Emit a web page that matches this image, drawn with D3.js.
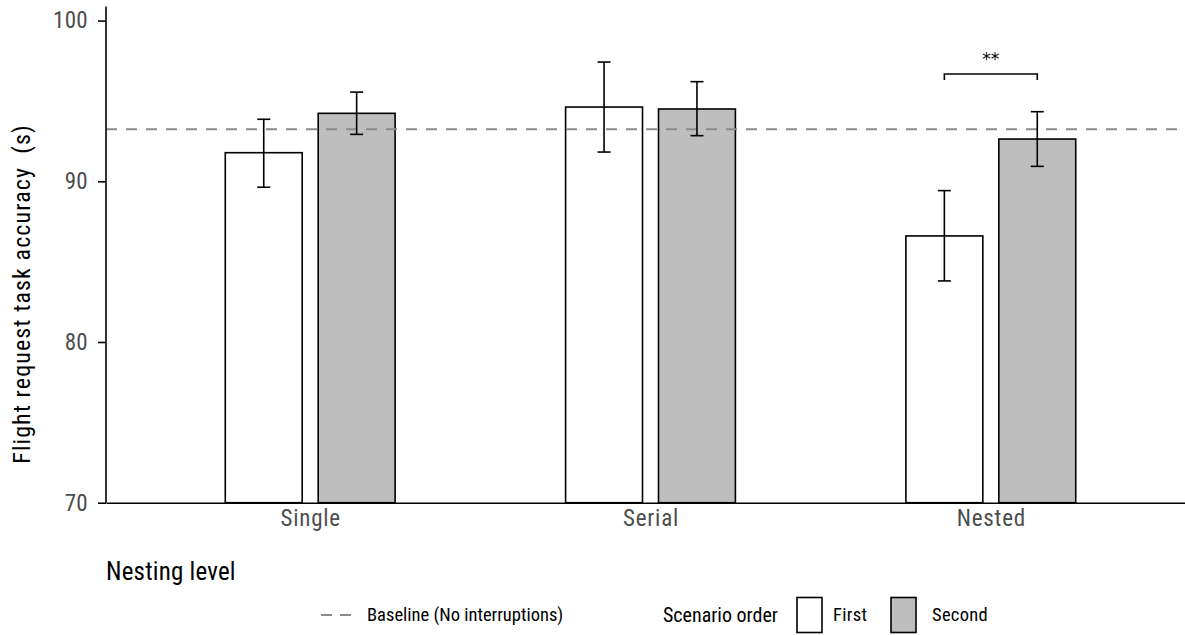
<!DOCTYPE html>
<html lang="en">
<head>
    <meta charset="UTF-8">
    <title>Flight request task accuracy</title>
    <style>
        body{
            margin : 0;
            background-color: white;
        }
        svg{
            display : block;
        }
        text{
            font-family : "Roboto Condensed", "Liberation Sans Narrow", "DejaVu Sans Condensed", sans-serif;
            font-weight : 400;
            white-space : pre;
        }
    </style>
</head>
<body>
    <script src="https://cdn.jsdelivr.net/npm/d3@7"></script>
    <script>
        // donnees
        const categories = ["Single", "Serial", "Nested"];
        const ordres = ["First", "Second"];
        const moyenneFirst = [91.78, 94.62, 86.60];
        const basFirst = [89.63, 91.82, 83.80];
        const hautFirst = [93.86, 97.42, 89.42];
        const moyenneSecond = [94.23, 94.50, 92.63];
        const basSecond = [92.92, 92.84, 90.93];
        const hautSecond = [95.55, 96.20, 94.33];
        const baseline = 93.24;
        const yTicks = [70, 80, 90, 100];
        // comparaison significative (Nested, First vs Second)
        const signif = {categorie : "Nested", niveau : 96.68, pointe : 96.31, label : "**"};

        const largeur = 1185, hauteur = 635;

        let donnees = [];
        categories.forEach((c, i) => {
            donnees.push({cat : c, ordre : "First", moy : moyenneFirst[i], bas : basFirst[i], haut : hautFirst[i]});
            donnees.push({cat : c, ordre : "Second", moy : moyenneSecond[i], bas : basSecond[i], haut : hautSecond[i]});
        });

        let canevas = d3.select('body')
            .append('svg')
                .attr('width', largeur)
                .attr('height', hauteur);

        // echelles
        let x = d3.scalePoint()
            .domain(categories)
            .range([106, 1195])
            .padding(0.6);
        let pas = x.step();
        let decalage = d3.scaleOrdinal().domain(ordres).range([-0.1365 * pas, 0.1365 * pas]);
        let largeurBarre = 0.226 * pas;

        let y = d3.scaleLinear()
            .domain([70, 100])
            .range([502.7, 20.6]);

        let couleur = d3.scaleOrdinal().domain(ordres).range(["white", "#bebebe"]);

        // barres
        canevas.append('g').selectAll('rect')
            .data(donnees)
            .enter()
            .append('rect')
                .attr('x', d => x(d.cat) + decalage(d.ordre) - largeurBarre / 2)
                .attr('y', d => y(d.moy))
                .attr('width', largeurBarre)
                .attr('height', d => y(70) - y(d.moy))
                .attr('fill', d => couleur(d.ordre))
                .attr('stroke', 'black')
                .attr('stroke-width', 1.6);

        // ligne de reference
        canevas.append('line')
            .attr('x1', 106)
            .attr('x2', largeur)
            .attr('y1', y(baseline))
            .attr('y2', y(baseline))
            .attr('stroke', '#8a8a8a')
            .attr('stroke-width', 1.8)
            .attr('stroke-dasharray', '11,9');

        // barres d'erreur
        let erreurs = canevas.append('g');
        erreurs.selectAll('line.vert')
            .data(donnees)
            .enter()
            .append('line')
                .attr('class', 'vert')
                .attr('x1', d => x(d.cat) + decalage(d.ordre))
                .attr('x2', d => x(d.cat) + decalage(d.ordre))
                .attr('y1', d => y(d.bas))
                .attr('y2', d => y(d.haut))
                .attr('stroke', 'black')
                .attr('stroke-width', 1.6);
        ['bas', 'haut'].forEach(k => {
            erreurs.selectAll('line.' + k)
                .data(donnees)
                .enter()
                .append('line')
                    .attr('class', k)
                    .attr('x1', d => x(d.cat) + decalage(d.ordre) - 6.5)
                    .attr('x2', d => x(d.cat) + decalage(d.ordre) + 6.5)
                    .attr('y1', d => y(d[k]))
                    .attr('y2', d => y(d[k]))
                    .attr('stroke', 'black')
                    .attr('stroke-width', 1.6);
        });

        // crochet de significativite
        let xa = x(signif.categorie) + decalage("First");
        let xb = x(signif.categorie) + decalage("Second");
        canevas.append('path')
            .attr('d', `M${xa},${y(signif.pointe)}V${y(signif.niveau)}H${xb}V${y(signif.pointe)}`)
            .attr('fill', 'none')
            .attr('stroke', 'black')
            .attr('stroke-width', 1.6);
        canevas.append('text')
            .attr('x', (xa + xb) / 2)
            .attr('y', y(signif.niveau) - 9)
            .attr('text-anchor', 'middle')
            .style('font-size', '17px')
            .style('font-family', 'DejaVu Sans')
            .style('font-weight', 'normal')
            .text(signif.label);

        // axe y
        let axeY = canevas.append('g')
            .attr('transform', 'translate(106,0)')
            .call(d3.axisLeft(y).tickValues(yTicks).tickSize(8).tickSizeOuter(0).tickPadding(10));
        axeY.select('.domain').remove();
        axeY.append('line')
            .attr('y1', y(100.87))
            .attr('y2', y(70))
            .attr('stroke', 'black')
            .attr('stroke-width', 1.6);
        axeY.selectAll('.tick line').attr('stroke', 'black').attr('stroke-width', 1.6);
        axeY.selectAll('.tick text')
            .attr('fill', '#4d4d4d')
            .style('font-size', '23px')
            .style('letter-spacing', '0.3px');

        // axe x
        let axeX = canevas.append('g')
            .attr('transform', `translate(0,${y(70)})`)
            .call(d3.axisBottom(x).tickSize(0).tickPadding(7));
        axeX.select('.domain').attr('stroke', 'black').attr('stroke-width', 1.6);
        axeX.selectAll('.tick text')
            .attr('fill', '#4d4d4d')
            .style('font-size', '23px')
            .style('letter-spacing', '0.8px');

        // titres
        canevas.append('text')
            .attr('x', 106)
            .attr('y', 580)
            .style('font-size', '25px')
            .style('letter-spacing', '0.2px')
            .text('Nesting level');
        canevas.append('text')
            .attr('transform', 'translate(30,294) rotate(-90)')
            .attr('text-anchor', 'middle')
            .style('font-size', '24px')
            .style('letter-spacing', '1.1px')
            .text('Flight request task accuracy  (s)');

        // legende
        let legende = canevas.append('g').attr('transform', 'translate(0,615)');
        legende.append('line')
            .attr('x1', 321).attr('x2', 351)
            .attr('stroke', '#8a8a8a')
            .attr('stroke-width', 1.8)
            .attr('stroke-dasharray', '11,8');
        legende.append('text')
            .attr('x', 367).attr('dy', '0.35em')
            .style('font-size', '18.5px')
            .text('Baseline (No interruptions)');
        legende.append('text')
            .attr('x', 663).attr('dy', '0.35em')
            .style('font-size', '20px')
            .text('Scenario order');
        let cles = legende.selectAll('g.cle')
            .data(ordres)
            .enter()
            .append('g')
                .attr('class', 'cle')
                .attr('transform', (d, i) => `translate(${797 + i * 94},0)`);
        cles.append('rect')
            .attr('x', 0).attr('y', -17.5)
            .attr('width', 25).attr('height', 35)
            .attr('fill', d => couleur(d))
            .attr('stroke', 'black')
            .attr('stroke-width', 1.6);
        cles.append('text')
            .attr('x', d => d === "First" ? 36 : 41).attr('dy', '0.35em')
            .style('font-size', '18.5px')
            .style('letter-spacing', '0.3px')
            .text(d => d);
    </script>
</body>
</html>
